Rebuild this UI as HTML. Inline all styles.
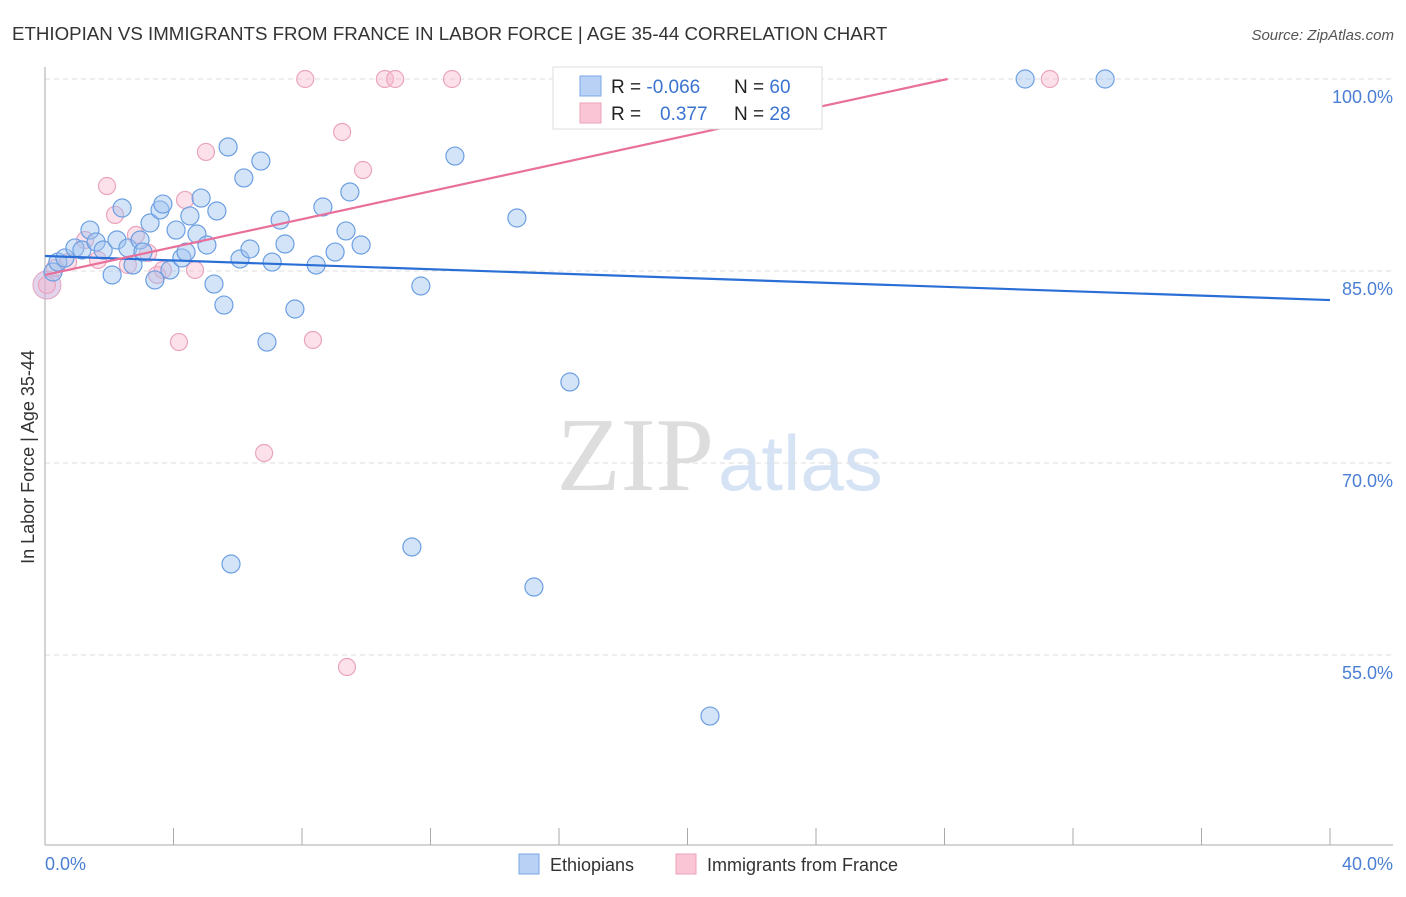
<!DOCTYPE html>
<html><head><meta charset="utf-8"><style>
body{margin:0;background:#fff;font-family:"Liberation Sans",sans-serif}
svg text{font-family:"Liberation Sans",sans-serif}
</style></head><body>
<svg id="chart" width="1406" height="892" xmlns="http://www.w3.org/2000/svg">
<text x="12" y="40" font-size="18.7" fill="#333">ETHIOPIAN VS IMMIGRANTS FROM FRANCE IN LABOR FORCE | AGE 35-44 CORRELATION CHART</text>
<text x="1394" y="40" font-size="15" fill="#555" font-style="italic" text-anchor="end">Source: ZipAtlas.com</text>
<text x="714" y="490" font-size="105" fill="#ddd" text-anchor="end" style="font-family:'Liberation Serif',serif">ZIP</text>
<text x="718" y="490" font-size="78" fill="#d6e3f5">atlas</text>
<g id="grid"></g>
<g id="axes"></g>
<g id="points"></g>
<g id="lines"></g>
<text transform="translate(34,457) rotate(-90)" font-size="18" fill="#333" text-anchor="middle">In Labor Force | Age 35-44</text>
<text x="45" y="870" font-size="18" fill="#4a7fd4">0.0%</text>
<text x="1393" y="870" font-size="18" fill="#4a7fd4" text-anchor="end">40.0%</text>
<g>
<rect x="553" y="67" width="269" height="62" fill="#fff" stroke="#ddd"/>
<rect x="580" y="76" width="21" height="20" fill="#b8d1f5" stroke="#7aa7e8"/>
<rect x="580" y="103" width="21" height="20" fill="#fac6d6" stroke="#eda2bb"/>
<text x="611" y="93" font-size="19" fill="#222">R = <tspan fill="#3b73d1">-0.066</tspan></text>
<text x="734" y="93" font-size="19" fill="#222">N = <tspan fill="#3b73d1">60</tspan></text>
<text x="611" y="120" font-size="19" fill="#222">R = <tspan fill="#3b73d1" x="660">0.377</tspan></text>
<text x="734" y="120" font-size="19" fill="#222">N = <tspan fill="#3b73d1">28</tspan></text>
</g>
<g>
<rect x="519" y="854" width="20" height="20" fill="#b8d1f5" stroke="#7aa7e8"/>
<text x="550" y="871" font-size="18" fill="#333">Ethiopians</text>
<rect x="676" y="854" width="20" height="20" fill="#fac6d6" stroke="#eda2bb"/>
<text x="707" y="871" font-size="18" fill="#333">Immigrants from France</text>
</g>
</svg>
<script>
const yTicks=[100,85,70,55];
const xTicks=[0,4,8,12,16,20,24,28,32,36,40];
const blueX=[0.25,0.40,0.62,0.93,1.15,1.40,1.59,1.81,2.09,2.24,2.40,2.58,2.74,2.96,3.05,3.27,3.42,3.58,3.67,3.89,4.08,4.26,4.39,4.51,4.73,4.86,5.04,5.26,5.35,5.57,5.70,5.79,6.07,6.19,6.38,6.72,6.91,7.07,7.32,7.47,7.78,8.44,8.65,9.03,9.37,9.49,9.84,11.42,11.70,12.76,14.69,15.22,16.34,20.70,30.51,33.00];
const blueY=[84.92,85.70,86.02,86.80,86.64,88.20,87.27,86.64,84.69,87.42,89.92,86.80,85.47,87.42,86.48,88.75,84.30,89.77,90.23,85.08,88.20,86.02,86.48,89.30,87.89,90.70,87.03,83.98,89.69,82.34,94.69,62.11,85.94,92.27,86.72,93.59,79.45,85.70,88.98,87.11,82.03,85.47,90.00,86.48,88.13,91.17,87.03,63.44,83.83,93.98,89.14,60.31,76.33,50.23,100,100];
const pinkX=[0.06,0.31,0.72,1.25,1.65,1.93,2.18,2.58,2.83,3.21,3.49,3.67,4.17,4.36,4.67,5.01,6.82,8.10,8.34,9.25,9.40,9.90,10.58,10.90,12.67,22.32,31.28];
const pinkY=[83.91,85.23,85.70,87.42,85.86,91.64,89.38,85.47,87.81,86.41,84.69,85.08,79.45,90.55,85.08,94.30,70.78,100,79.61,95.86,54.06,92.89,100,100,100,100,100];
const blueTrend=[86.17,82.73];
const pinkTrend=[84.69,0.5449];
const NS='http://www.w3.org/2000/svg';
const X=v=>45+v*32.125, Y=v=>79+(100-v)*12.8;
function mk(t,a,p){const e=document.createElementNS(NS,t);for(const k in a)e.setAttribute(k,a[k]);p.appendChild(e);return e;}
const grid=document.getElementById('grid'),axes=document.getElementById('axes'),pts=document.getElementById('points'),lines=document.getElementById('lines');
yTicks.forEach(v=>{
 const l=mk('line',{x1:45,x2:1393,y1:Y(v),y2:Y(v),stroke:'#ddd','stroke-dasharray':'5,4'},grid);
 
 
 const t=mk('text',{x:1393,y:Y(v)+24,'font-size':18,fill:'#4a7fd4','text-anchor':'end'},grid);t.textContent=v.toFixed(1)+'%';
 
 
});
const ya=mk('line',{x1:45,x2:45,y1:67,y2:845,stroke:'#aaa'},axes);


const xa=mk('line',{x1:45,x2:1393,y1:845,y2:845,stroke:'#aaa'},axes);


xTicks.forEach(v=>{const t=mk('line',{x1:X(v),x2:X(v),y1:828,y2:845,stroke:'#aaa'},axes);
 
 });
const big=mk('circle',{cx:X(pinkX[0]),cy:Y(pinkY[0]),r:14,fill:'rgba(200,170,220,0.5)',stroke:'#e4a5bf'},pts);


pinkX.forEach((x,i)=>{const c=mk('circle',{cx:X(x),cy:Y(pinkY[i]),r:8.5,fill:'rgba(248,180,203,0.4)',stroke:'#eaa4bd','stroke-width':1.2},pts);
 
 });
blueX.forEach((x,i)=>{const c=mk('circle',{cx:X(x),cy:Y(blueY[i]),r:9,fill:'rgba(160,196,240,0.45)',stroke:'#6c9fe2','stroke-width':1.2},pts);
 
 });
const bl=mk('line',{x1:X(0),y1:Y(blueTrend[0]),x2:X(40),y2:Y(blueTrend[1]),stroke:'#2a6fd6','stroke-width':2.2},lines);


const xEnd=(100-pinkTrend[0])/pinkTrend[1];
const pl=mk('line',{x1:X(0),y1:Y(pinkTrend[0]),x2:X(xEnd),y2:Y(100),stroke:'#e8709a','stroke-width':2.2},lines);


</script>
</body></html>
